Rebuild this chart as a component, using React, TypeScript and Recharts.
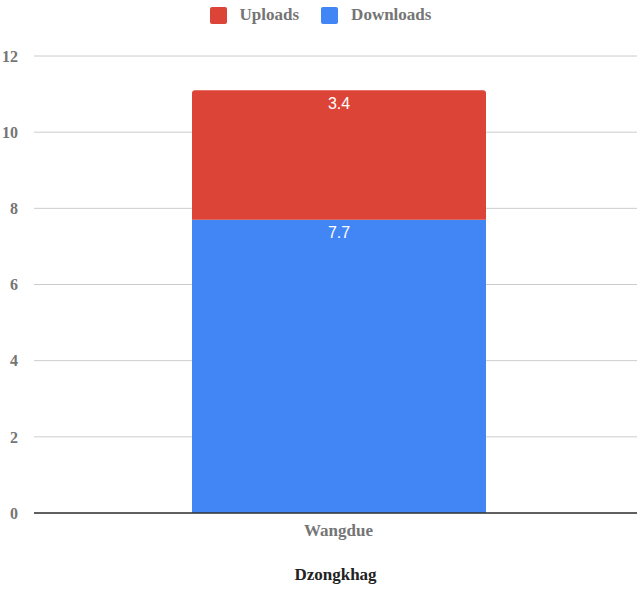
import React from "react";
import { BarChart, Bar, XAxis, YAxis, CartesianGrid, Legend, LabelList } from "recharts";

const categories = ["Wangdue"];
const downloads = [7.7];
const uploads = [3.4];
const yTicks = [0, 2, 4, 6, 8, 10, 12];

const data = categories.map((c, i) => ({ name: c, Downloads: downloads[i], Uploads: uploads[i] }));

const legendItems = [
  { label: "Uploads", color: "#DB4437" },
  { label: "Downloads", color: "#4285F4" },
];

const serif = "'Liberation Serif', 'Times New Roman', serif";
const sans = "'Liberation Sans', Arial, sans-serif";

const LegendContent = () => (
  <div style={{ display: "flex", justifyContent: "center", alignItems: "center", fontFamily: serif, fontWeight: "bold", fontSize: 17, color: "#757575", height: 18, paddingLeft: 4 }}>
    {legendItems.map((it, i) => (
      <div key={it.label} style={{ display: "flex", alignItems: "center", marginLeft: i === 0 ? 0 : 22 }}>
        <div style={{ width: 17, height: 17, background: it.color, borderRadius: 2, marginRight: 13 }} />
        <span>{it.label}</span>
      </div>
    ))}
  </div>
);

export default function App() {
  return (
    <div style={{ position: "absolute", left: 0, top: 0, width: 637, height: 590, background: "#fff" }}>
      <BarChart width={637} height={590} data={data} margin={{ top: 38, right: 0, bottom: 0, left: 0 }} barSize={294}>
        <CartesianGrid vertical={false} stroke="#cccccc" />
        <Legend verticalAlign="top" height={18} content={<LegendContent />} wrapperStyle={{ top: 6, left: 0, width: 637 }} />
        <XAxis
          dataKey="name"
          height={77}
          padding={{ left: 6, right: 0 }}
          tickLine={false}
          axisLine={{ stroke: "#333333", strokeWidth: 1.5 }}
          tick={{ fill: "#757575", fontFamily: serif, fontWeight: "bold", fontSize: 17 }}
          tickMargin={5}
          label={{ value: "Dzongkhag", position: "insideBottom", offset: 10, fill: "#222", fontFamily: serif, fontWeight: "bold", fontSize: 17 }}
        />
        <YAxis
          width={34}
          domain={[0, 12]}
          ticks={yTicks}
          tickLine={false}
          axisLine={false}
          tickMargin={10}
          tick={{ fill: "#757575", fontFamily: serif, fontWeight: "bold", fontSize: 16 }}
        />
        <Bar dataKey="Downloads" stackId="a" fill="#4285F4" isAnimationActive={false}>
          <LabelList dataKey="Downloads" position="insideTop" offset={7} fill="#ffffff" style={{ fontFamily: sans, fontSize: 16 }} />
        </Bar>
        <Bar dataKey="Uploads" stackId="a" fill="#DB4437" radius={[3, 3, 0, 0]} isAnimationActive={false}>
          <LabelList dataKey="Uploads" position="insideTop" offset={7} fill="#ffffff" style={{ fontFamily: sans, fontSize: 16 }} />
        </Bar>
      </BarChart>
    </div>
  );
}
